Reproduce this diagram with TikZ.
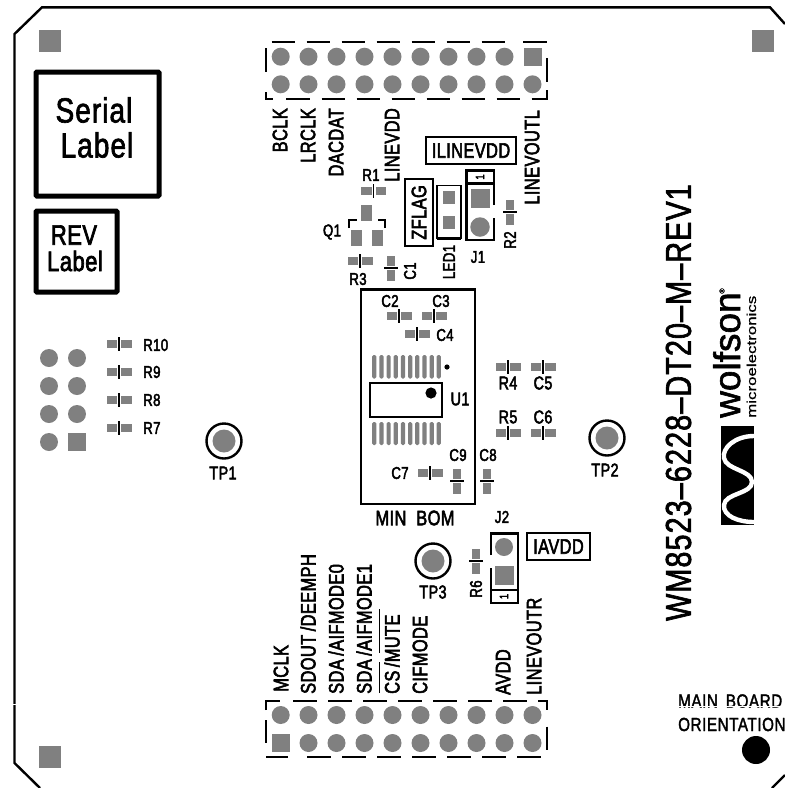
\documentclass[tikz,border=0pt]{standalone}
\usepackage{fontspec}
\usepackage{tikz}
\usetikzlibrary{positioning}
\newfontfamily\silkfont[FakeStretch=0.78,FakeBold=2.6,LetterSpace=2]{Liberation Sans}
\newfontfamily\thinfont[FakeStretch=0.8,FakeBold=1.8,LetterSpace=3]{Liberation Sans}
\newfontfamily\logofont[FakeBold=1.6]{Liberation Sans}
\newfontfamily\logowide[FakeStretch=1.3,FakeBold=0.6]{Liberation Sans}
\definecolor{padgrey}{HTML}{808080}
\tikzset{
  pad/.style={circle,fill=padgrey,minimum size=18pt,inner sep=0pt,draw=none},
  sqpad/.style={rectangle,fill=padgrey,minimum size=18pt,inner sep=0pt,draw=none},
  fidpad/.style={rectangle,fill=padgrey,minimum size=22pt,inner sep=0pt,draw=none},
  silk/.style={inner sep=0pt,font=\silkfont\fontsize{21}{21}\selectfont},
  silkmid/.style={inner sep=0pt,font=\silkfont\fontsize{18.5}{18}\selectfont},
  silksmall/.style={inner sep=0pt,font=\silkfont\fontsize{17}{17}\selectfont},
  silkbig/.style={inner sep=0pt,font=\thinfont\fontsize{35}{35}\selectfont},
  silkrev/.style={inner sep=0pt,font=\silkfont\fontsize{28}{28}\selectfont},
  silkboard/.style={inner sep=0pt,font=\thinfont\fontsize{36}{36}\selectfont},
  labelbox/.style={draw,line width=2.4pt,rectangle,inner sep=0pt},
  outline/.style={line width=2.4pt,line cap=butt},
  hdrdash/.style={line width=2.2pt,line join=miter},
  hpart/.pic={
    \fill[padgrey] (-12.5,-4) rectangle (-2,4);
    \fill[padgrey] (2,-4) rectangle (12.5,4);
    \draw[line width=1.5pt] (0,-7) -- (0,7);
  },
  vpart/.pic={
    \fill[padgrey] (-4,-12.5) rectangle (4,-2);
    \fill[padgrey] (-4,2) rectangle (4,12.5);
    \draw[line width=1.5pt] (-7,0) -- (7,0);
  },
  testpoint/.pic={
    \fill[padgrey] (0,0) circle (11.5);
    \draw[line width=2.4pt] (0,0) circle (17.5);
  }
}
\begin{document}
\begin{tikzpicture}[x=1pt,y=-1pt]
%
\useasboundingbox (0,0) rectangle (785,788);
%
% board outline
\draw[outline] (40,788) -- (14.5,763) -- (14.5,34) -- (42,7.3) -- (770,7.3) -- (785,24);
\draw[outline] (772,788) -- (785,775);
\draw[white,line width=1pt] (10,704.5) -- (20,704.5);
%
% corner squares
\node[fidpad] (f0) at (50,41) {};
\node[fidpad] (f1) at (763,41) {};
\node[fidpad] (f2) at (50,757) {};
%
% label boxes
\draw[line width=5pt,rounded corners=1pt] (36,72) rectangle (159,196);
\draw[line width=5pt,rounded corners=1pt] (36,211) rectangle (117,292);
\node[silkbig] (serial) at (94,110) {Serial};
\node[silkbig] (serial2) at (97,145) {Label};
\node[silkrev] (rev) at (74,235) {REV};
\node[silkrev] (rev2) at (75,261) {Label};
%
% top header
\node[pad] (a0) at (280.7,84.3) {};
\node[pad] (a1) at (308.5,84.3) {};
\node[pad] (a2) at (336.5,84.3) {};
\node[pad] (a3) at (364.5,84.3) {};
\node[pad] (a4) at (392.5,84.3) {};
\node[pad] (a5) at (420.5,84.3) {};
\node[pad] (a6) at (448.5,84.3) {};
\node[pad] (a7) at (476.5,84.3) {};
\node[pad] (a8) at (504.5,84.3) {};
\node[pad] (a9) at (532.5,84.3) {};
\node[pad] (b0) at (280.7,56.7) {};
\node[pad] (b1) at (308.5,56.7) {};
\node[pad] (b2) at (336.5,56.7) {};
\node[pad] (b3) at (364.5,56.7) {};
\node[pad] (b4) at (392.5,56.7) {};
\node[pad] (b5) at (420.5,56.7) {};
\node[pad] (b6) at (448.5,56.7) {};
\node[pad] (b7) at (476.5,56.7) {};
\node[pad] (b8) at (504.5,56.7) {};
\node[sqpad] (b9) at (532.5,56.7) {};
\draw[hdrdash] (271.7,42.3) -- (295,42.3) (306.7,42.3) -- (330,42.3) (341.7,42.3) -- (365,42.3)
  (376.7,42.3) -- (400,42.3) (411.7,42.3) -- (435,42.3) (446.7,42.3) -- (470,42.3)
  (481.7,42.3) -- (505,42.3) (523.3,42.3) -- (546.7,42.3);
\draw[hdrdash] (266,48.3) -- (266,71.7) (546.7,58.3) -- (546.7,81.7);
\draw[hdrdash] (266,92) -- (266,99) -- (273.3,99) (286,99) -- (310,99) (321.7,99) -- (345,99)
  (356.7,99) -- (380,99) (391.7,99) -- (415,99) (426.7,99) -- (450,99) (461.7,99) -- (485,99)
  (496.7,99) -- (520,99) (531.7,99) -- (546.7,99) -- (546.7,90);
%
% top header signals
\node[silk,rotate=90,anchor=east] (tBCLK) at (280,108) {BCLK};
\node[silk,rotate=90,anchor=east] (tLRCLK) at (308,108) {LRCLK};
\node[silk,rotate=90,anchor=east] (tDACDAT) at (336,108) {DACDAT};
\node[silk,rotate=90,anchor=east] (tLINEVDD) at (392,108) {LINEVDD};
\node[silk,rotate=90,anchor=east] (tLINEVOUTL) at (532,110) {LINEVOUTL};
%
% ILINEVDD, ZFLAG
\node[labelbox,minimum width=90pt,minimum height=27pt,silk] (ilinevdd) at (471,150.5) {ILINEVDD};
\node[labelbox,minimum width=67pt,minimum height=28pt,silk,rotate=90] (zflag) at (419,212.5) {ZFLAG};
%
% R1, Q1, R3, C1
\pic (R1) at (373.7,191) {hpart};
\node[silksmall] (lR1) at (371,175) {R1};
\node[rectangle,fill=padgrey,minimum width=11pt,minimum height=16pt,inner sep=0pt] (q0) at (366.7,213) {};
\node[rectangle,fill=padgrey,minimum width=11pt,minimum height=16pt,inner sep=0pt] (q1) at (356,238) {};
\node[rectangle,fill=padgrey,minimum width=11pt,minimum height=16pt,inner sep=0pt] (q2) at (377,238) {};
\draw[line width=2pt] (349,228) -- (349,219.5) -- (357,219.5);
\draw[line width=2pt] (385,228) -- (385,219.5) -- (378,219.5);
\node[silksmall] (lQ1) at (332,232) {Q1};
\pic (R3) at (360,261) {hpart};
\node[silksmall] (lR3) at (358,279) {R3};
\pic (C1) at (391,268) {vpart};
\node[silksmall,rotate=90] (lC1) at (410,271) {C1};
%
% LED1
\draw[line width=1.5pt] (437,239) -- (437,185.5) -- (461,185.5) -- (461,239);
\draw[line width=3pt] (437,238) -- (461,238);
\node[rectangle,fill=padgrey,minimum width=12pt,minimum height=13pt,inner sep=0pt] (led0) at (449,197) {};
\node[rectangle,fill=padgrey,minimum width=12pt,minimum height=13pt,inner sep=0pt] (led1) at (449,222) {};
\node[silksmall,rotate=90] (lLED1) at (449,262) {LED1};
%
% J1
\draw[line width=2.4pt] (494,205) -- (494,170.5) -- (466.5,170.5) -- (466.5,240) -- (494,240) -- (494,218);
\draw[line width=2.4pt] (466.5,183.5) -- (494,183.5);
\node[inner sep=0pt,font=\silkfont\fontsize{12}{12}\selectfont,rotate=90] (j1one) at (480,177) {1};
\node[sqpad,minimum size=19pt] (j1p0) at (480,198) {};
\node[pad,minimum size=19.5pt] (j1p1) at (480,227) {};
\node[silksmall] (lJ1) at (478,257) {J1};
\pic (R2) at (510,212) {vpart};
\node[silksmall,rotate=90] (lR2) at (510,240) {R2};
%
% U1 block
\draw[line width=2.6pt] (361,289.5) rectangle (475,504);
\pic (C2) at (399,316) {hpart};
\node[silksmall] (lC2) at (390,301) {C2};
\pic (C3) at (434,316) {hpart};
\node[silksmall] (lC3) at (441,301) {C3};
\pic (C4) at (417,334) {hpart};
\node[silksmall] (lC4) at (445,335) {C4};
\foreach \i in {0,...,9} {
  \fill[padgrey,rounded corners=1.5pt] ({372.2+7.17*\i},355) rectangle ({376.4+7.17*\i},378.5);
  \fill[padgrey,rounded corners=1.5pt] ({372.2+7.17*\i},422) rectangle ({376.4+7.17*\i},445);
}
\fill (447,367) circle (2.6);
\draw[line width=2.2pt] (370,383) rectangle (442,417);
\fill (431,393) circle (5.6);
\node[silkmid] (lU1) at (460,399) {U1};
\pic (C7) at (430,473) {hpart};
\node[silksmall] (lC7) at (400,473) {C7};
\pic (C9) at (457,481) {vpart};
\node[silksmall] (lC9) at (458,455) {C9};
\pic (C8) at (487,481) {vpart};
\node[silksmall] (lC8) at (488,455) {C8};
\node[silk] (lMIN) at (415,518) {MIN\hspace{10pt}BOM};
%
% R4, C5, R5, C6
\pic (R4) at (508,367) {hpart};
\node[silkmid] (lR4) at (508,383) {R4};
\pic (C5) at (543,367) {hpart};
\node[silkmid] (lC5) at (543,383) {C5};
\pic (R5) at (508,433) {hpart};
\node[silkmid] (lR5) at (508,417) {R5};
\pic (C6) at (543,433) {hpart};
\node[silkmid] (lC6) at (543,417) {C6};
%
% left header and R7-R10
\node[pad] (c0) at (49,358) {};
\node[pad] (c1) at (77,358) {};
\node[pad] (c2) at (49,386) {};
\node[pad] (c3) at (77,386) {};
\node[pad] (c4) at (49,414) {};
\node[pad] (c5) at (77,414) {};
\node[pad] (c6) at (49,442) {};
\node[sqpad] (c7) at (77,442) {};
\pic (R10) at (119,344) {hpart};
\node[silksmall,anchor=west] (lR10) at (143,345) {R10};
\pic (R9) at (119,372) {hpart};
\node[silksmall,anchor=west] (lR9) at (143,372) {R9};
\pic (R8) at (119,400) {hpart};
\node[silksmall,anchor=west] (lR8) at (143,400) {R8};
\pic (R7) at (119,428) {hpart};
\node[silksmall,anchor=west] (lR7) at (143,428) {R7};
%
% test points
\pic (TP1) at (224,441) {testpoint};
\node[silkmid] (lTP1) at (223,473) {TP1};
\pic (TP2) at (607,438) {testpoint};
\node[silkmid] (lTP2) at (605,470) {TP2};
\pic (TP3) at (433,561) {testpoint};
\node[silkmid] (lTP3) at (433,592) {TP3};
%
% J2, R6, IAVDD
\node[silksmall] (lJ2) at (502,517) {J2};
\draw[line width=2.4pt] (491,555) -- (491,533.5) -- (518,533.5) -- (518,603) -- (491,603) -- (491,568);
\draw[line width=2.4pt] (491,590) -- (518,590);
\node[inner sep=0pt,font=\silkfont\fontsize{12}{12}\selectfont,rotate=90] (j2one) at (504,596.5) {1};
\node[pad] (j2p0) at (504,547) {};
\node[sqpad,minimum size=19pt] (j2p1) at (504,575) {};
\pic (R6) at (476,561) {vpart};
\node[silksmall,rotate=90] (lR6) at (476,589) {R6};
\node[labelbox,minimum width=63pt,minimum height=27pt,silk] (iavdd) at (558.5,546.5) {IAVDD};
%
% bottom header
\node[pad] (d0) at (280.7,715) {};
\node[pad] (d1) at (308.5,715) {};
\node[pad] (d2) at (336.5,715) {};
\node[pad] (d3) at (364.5,715) {};
\node[pad] (d4) at (392.5,715) {};
\node[pad] (d5) at (420.5,715) {};
\node[pad] (d6) at (448.5,715) {};
\node[pad] (d7) at (476.5,715) {};
\node[pad] (d8) at (504.5,715) {};
\node[pad] (d9) at (532.5,715) {};
\node[sqpad] (e0) at (280.7,743) {};
\node[pad] (e1) at (308.5,743) {};
\node[pad] (e2) at (336.5,743) {};
\node[pad] (e3) at (364.5,743) {};
\node[pad] (e4) at (392.5,743) {};
\node[pad] (e5) at (420.5,743) {};
\node[pad] (e6) at (448.5,743) {};
\node[pad] (e7) at (476.5,743) {};
\node[pad] (e8) at (504.5,743) {};
\node[pad] (e9) at (532.5,743) {};
\draw[hdrdash] (266,710) -- (266,701) -- (280,701) (293.3,701) -- (316.7,701) (328.3,701) -- (351.7,701)
  (363.3,701) -- (386.7,701) (398.3,701) -- (421.7,701) (433.3,701) -- (456.7,701)
  (468.3,701) -- (491.7,701) (503.3,701) -- (526.7,701) (538.3,701) -- (546.7,701) -- (546.7,710);
\draw[hdrdash] (266,720) -- (266,743.3) (546.7,726.7) -- (546.7,750);
\draw[hdrdash] (266,757.3) -- (288.3,757.3) (307.3,757.3) -- (330.7,757.3) (342.3,757.3) -- (365.7,757.3)
  (377.3,757.3) -- (400.7,757.3) (412.3,757.3) -- (435.7,757.3) (447.3,757.3) -- (470.7,757.3)
  (482.3,757.3) -- (505.7,757.3) (517.3,757.3) -- (540.7,757.3);
%
% bottom header signals
\node[silk,rotate=90,anchor=west] (tMCLK) at (281,692) {MCLK};
\node[silk,rotate=90,anchor=west] (tSDOUT) at (308,694) {SDOUT\,/DEEMPH};
\node[silk,rotate=90,anchor=west] (tSDA0) at (336,694) {SDA\,/AIFMODE0};
\node[silk,rotate=90,anchor=west] (tSDA1) at (364,694) {SDA\,/AIFMODE1};
\node[silk,rotate=90,anchor=west] (tMUTE) at (392,694) {CS\,/MUTE};
\draw[line width=1.8pt] (379.5,693) -- (379.5,662) (379.5,653) -- (379.5,609);
\node[silk,rotate=90,anchor=west] (tCIF) at (420,694) {CIFMODE};
\node[silk,rotate=90,anchor=west] (tAVDD) at (503,695) {AVDD};
\node[silk,rotate=90,anchor=west] (tLINER) at (534,695) {LINEVOUTR};
%
% board name
\node[silkboard,rotate=90] (tBoard) at (678.5,402.5) {WM8523\textendash 6228\textendash DT20\textendash M\textendash REV1};
%
% logo
\fill (721,426) rectangle (754,525);
\draw[white,line width=4.4pt] (754,436) .. controls (735,436) and (722,448) .. (724,458)
  .. controls (726,470) and (752,470) .. (752,482) .. controls (752,494) and (725,493) .. (724,505)
  .. controls (723,516) and (738,522) .. (754,522);
\node[inner sep=0pt,anchor=base west,rotate=90,font=\logofont\fontsize{37}{37}\selectfont] (tWolfson) at (740,418) {wolfson};
\node[inner sep=0pt,anchor=base west,rotate=90,font=\logowide\fontsize{13}{13}\selectfont] (tMicro) at (756,418) {microelectronics};
\node[inner sep=0pt,rotate=90,font=\logofont\fontsize{7}{7}\selectfont] (tReg) at (722,291) {\textregistered};
%
% orientation mark
\node[silkmid,anchor=west,font=\thinfont\fontsize{19}{19}\selectfont] (tMain) at (678,701) {MAIN\hspace{8pt}BOARD};
\draw[white,line width=1pt] (676,706.5) -- (785,706.5);
\node[silkmid,anchor=west,font=\thinfont\fontsize{19}{19}\selectfont] (tOrient) at (678,724.5) {ORIENTATION};
\fill (756,750) circle (14);
%
\end{tikzpicture}
\end{document}
